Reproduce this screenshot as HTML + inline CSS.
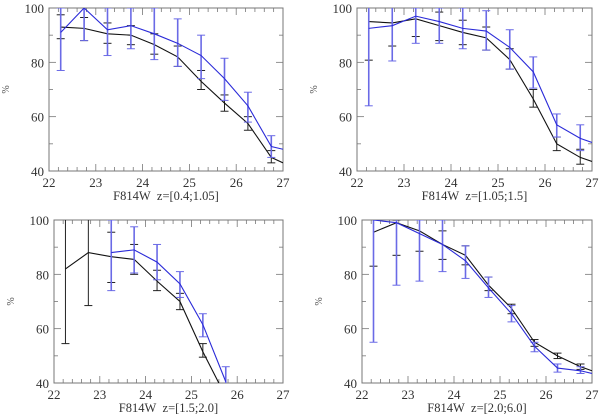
<!DOCTYPE html>
<html><head><meta charset="utf-8"><style>
html,body{margin:0;background:#fff;width:600px;height:418px;overflow:hidden;}
svg{display:block;font-family:"Liberation Serif",serif;}
</style></head><body>
<svg id="chart" width="600" height="418" viewBox="0 0 600 418"></svg>
<script>
const xTicks=[22,23,24,25,26,27];
const yTicks=[40,60,80,100];
const mags=[22.25,22.75,23.25,23.75,24.25,24.75,25.25,25.75,26.25,26.75,27];
const titles=["F814W\u00a0\u00a0z=[0.4;1.05]","F814W\u00a0\u00a0z=[1.05;1.5]","F814W\u00a0\u00a0z=[1.5;2.0]","F814W\u00a0\u00a0z=[2.0;6.0]"];
// panel 1
const p1Black=[93,92.5,90.5,90,86.5,82,73,65,57.5,45,43];
const p1BlackHi=[97.5,96.5,94.5,93.5,90.5,86,77,68,60,47.5,null];
const p1BlackLo=[88.7,88,87,86.5,83,78.5,70,62,55,43,null];
const p1Blue=[91,100,92,93.5,90.5,87,82.5,74,64,49,48];
const p1BlueHi=[100,104,100,100,100,96,90,81.5,69,53,null];
const p1BlueLo=[77,88,82.5,85,81,78.5,74,66,58,45,null];
// panel 2
const p2Black=[95,94.5,96,93.5,91,89,81,66.5,50,45,43.5];
const p2BlackHi=[104,104,100,98.5,95.5,93,85,70,52.5,48,null];
const p2BlackLo=[80.8,86,89.5,88,86.5,84.5,77.5,63.5,47.5,42.5,null];
const p2Blue=[92.5,93.5,97,95,92.5,91.5,85.5,76.5,57,52,50.5];
const p2BlueHi=[104,104,100,100,100,99,92,82,61,57,null];
const p2BlueLo=[64,80.5,87,87,85,84.5,77.5,70.5,52.5,47.5,null];
// panel 3
const p3Black=[82,88,86.5,85.5,77.5,70,51.5,35,null,null,null];
const p3BlackHi=[104,104,95.5,91,81.5,73,54.5,null,null,null,null];
const p3BlackLo=[54.5,68.5,77,80,74,67,49.5,null,null,null,null];
const p3Blue=[null,null,88,89,84.5,76.5,61.5,40.5,null,null,null];
const p3BlueHi=[null,null,100,97.5,91,81,65.5,46,null,null,null];
const p3BlueLo=[null,null,74,80.5,78,71.5,57,38,null,null,null];
// panel 4
const p4Black=[95.5,99,96,91,87,76,67.5,55,50,46,44.5];
const p4BlackHi=[104,100,100,96,90.5,79,69,56,51,47,null];
const p4BlackLo=[83,87,88.5,85.5,83.5,74,65.5,53.5,49,45,null];
const p4Blue=[100,99,95,91,85,75,65.5,53.5,45.5,44.5,43.5];
const p4BlueHi=[104,104,100,100,90.5,79,68.5,55,47,46,null];
const p4BlueLo=[55,76,77.5,81,78.5,71.5,62.5,51.5,44,43.5,null];

const panels=[
 {x0:49,x1:283,y0:8,y1:171,t:titles[0],s:[[p1Black,p1BlackHi,p1BlackLo],[p1Blue,p1BlueHi,p1BlueLo]]},
 {x0:357,x1:592,y0:8,y1:171,t:titles[1],s:[[p2Black,p2BlackHi,p2BlackLo],[p2Blue,p2BlueHi,p2BlueLo]]},
 {x0:54,x1:283,y0:220,y1:383,t:titles[2],s:[[p3Black,p3BlackHi,p3BlackLo],[p3Blue,p3BlueHi,p3BlueLo]]},
 {x0:362,x1:592,y0:220,y1:383,t:titles[3],s:[[p4Black,p4BlackHi,p4BlackLo],[p4Blue,p4BlueHi,p4BlueLo]]}
];
const colors=[["#111","#222"],["#2a2ad8","#6a6ae6"]];
const NS="http://www.w3.org/2000/svg";
const svg=document.getElementById('chart');
function mk(tag,attrs,parent){const e=document.createElementNS(NS,tag);for(const k in attrs)e.setAttribute(k,attrs[k]);(parent||svg).appendChild(e);return e;}
panels.forEach((p,i)=>{
  const g=mk('g',{});
  
  
  const sx=v=>p.x0+(v-22)/5*(p.x1-p.x0);
  const sy=v=>p.y1-(v-40)/60*(p.y1-p.y0);
  const cp=mk('clipPath',{id:'clip'+i},g);
  mk('rect',{x:p.x0,y:p.y0,width:p.x1-p.x0,height:p.y1-p.y0},cp);
  for(let v=22;v<=27.001;v+=0.2){const X=sx(v);const major=Math.abs(v-Math.round(v))<0.01;const L=major?7:4;
    mk('line',{x1:X,y1:p.y1,x2:X,y2:p.y1-L,stroke:'#777','stroke-width':0.8},g);
    mk('line',{x1:X,y1:p.y0,x2:X,y2:p.y0+L,stroke:'#777','stroke-width':0.8},g);}
  for(let v=40;v<=100;v+=10){const Y=sy(v);const major=v%20===0;const L=major?7:4;
    mk('line',{x1:p.x0,y1:Y,x2:p.x0+L,y2:Y,stroke:'#777','stroke-width':0.8},g);
    mk('line',{x1:p.x1,y1:Y,x2:p.x1-L,y2:Y,stroke:'#777','stroke-width':0.8},g);}
  const fr=mk('rect',{x:p.x0,y:p.y0,width:p.x1-p.x0,height:p.y1-p.y0,fill:'none',stroke:'#777','stroke-width':1},g);
  
  
  xTicks.forEach(v=>{const t=mk('text',{x:sx(v),y:p.y1+16,'text-anchor':'middle','font-size':13,fill:'#333'},g);t.textContent=v;
    
    });
  yTicks.forEach(v=>{const t=mk('text',{x:p.x0-5,y:sy(v)+5,'text-anchor':'end','font-size':13,fill:'#333'},g);t.textContent=v;
    
    });
  const tt=mk('text',{x:(p.x0+p.x1)/2,y:p.y1+29,'text-anchor':'middle','font-size':12.5,fill:'#333'},g);tt.textContent=p.t;
  
  
  const yt=mk('text',{x:0,y:0,'text-anchor':'middle','font-size':10,fill:'#555',transform:`translate(${p.x0-40},${(p.y0+p.y1)/2}) rotate(-90)`},g);yt.textContent='%';
  
  
  const dg=mk('g',{'clip-path':`url(#clip${i})`},g);
  p.s.forEach((s,si)=>{
    const [val,hi,lo]=s;
    const pts=[];val.forEach((v,j)=>{if(v!==null)pts.push(sx(mags[j])+','+sy(v));});
    const eg=mk('g',{},dg);
    
    
    val.forEach((v,j)=>{if(hi[j]===null||lo[j]===null)return;const X=sx(mags[j]);
      mk('line',{x1:X,y1:sy(hi[j]),x2:X,y2:sy(lo[j]),stroke:colors[si][1],'stroke-width':si?1.6:1},eg);
      [hi[j],lo[j]].forEach(e=>mk('line',{x1:X-4,y1:sy(e),x2:X+4,y2:sy(e),stroke:colors[si][1],'stroke-width':1},eg));});
    const pl=mk('polyline',{points:pts.join(' '),fill:'none',stroke:colors[si][0],'stroke-width':1.1},dg);
    
    
  });
});
</script>
</body></html>
